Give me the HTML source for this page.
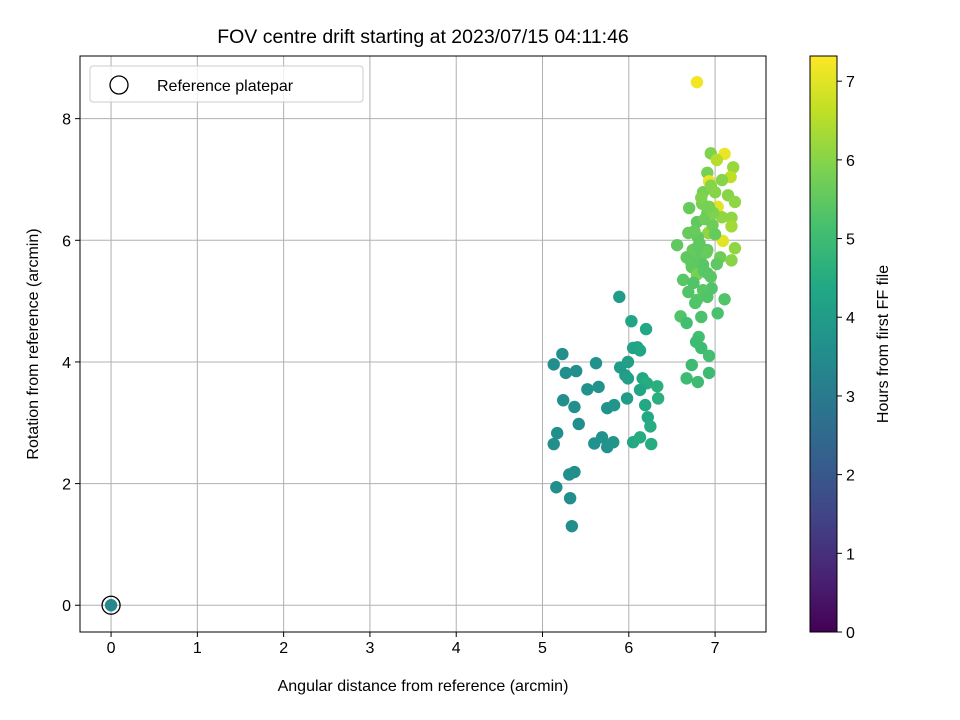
<!DOCTYPE html>
<html><head><meta charset="utf-8"><style>body{margin:0;background:#fff}svg{display:block;font-family:"Liberation Sans","DejaVu Sans",sans-serif}</style></head>
<body>
<svg id="c" width="960" height="720"></svg>
<script>
const xs=[5.89,6.03,6.20,6.10,6.05,6.13,5.23,5.13,5.62,5.27,5.39,5.90,5.99,5.96,5.99,6.16,6.21,6.33,6.34,6.19,6.13,5.52,5.65,5.24,5.37,5.75,5.83,5.98,6.22,6.25,5.42,5.17,5.13,5.60,5.69,5.75,5.82,6.05,6.13,6.26,5.31,5.37,5.16,5.32,5.34,
6.79,6.95,7.11,7.02,7.21,6.91,7.18,6.93,7.08,6.86,7.00,7.15,7.23,6.70,7.03,6.91,7.08,7.19,6.79,7.19,6.69,6.92,6.80,7.09,6.56,6.74,6.91,7.23,6.67,7.06,7.19,6.83,6.73,7.02,6.79,6.91,6.63,6.96,6.69,6.86,6.79,6.91,7.11,6.77,7.03,6.60,6.67,6.84,6.81,6.78,6.84,6.93,6.73,6.67,6.80,6.93,
6.85,6.95,6.88,6.76,6.98,6.82,6.90,6.72,6.87,6.97,6.84,6.93,7.00,6.75,6.86,6.95,6.80,0];
const ys=[5.07,4.67,4.54,4.24,4.23,4.19,4.13,3.96,3.98,3.82,3.85,3.91,4.00,3.78,3.73,3.73,3.65,3.60,3.40,3.29,3.54,3.55,3.59,3.37,3.26,3.24,3.29,3.40,3.09,2.94,2.98,2.83,2.65,2.66,2.76,2.60,2.68,2.68,2.76,2.65,2.15,2.19,1.94,1.76,1.30,
8.60,7.43,7.42,7.32,7.20,7.11,7.04,6.97,6.99,6.79,6.79,6.74,6.63,6.53,6.55,6.45,6.38,6.37,6.30,6.23,6.12,6.12,6.05,5.99,5.92,5.84,5.84,5.87,5.72,5.72,5.67,5.72,5.56,5.61,5.44,5.46,5.35,5.21,5.15,5.18,5.02,5.07,5.03,4.97,4.80,4.75,4.64,4.74,4.41,4.33,4.23,4.10,3.95,3.73,3.67,3.82,
6.60,6.90,6.35,6.15,6.45,5.95,5.80,5.65,5.50,6.25,6.70,6.55,6.10,5.30,5.60,5.40,5.90,0];
const hs=[4.0,4.3,4.4,4.2,4.2,4.3,3.6,3.6,3.7,3.6,3.6,4.0,4.1,4.0,4.1,4.4,4.5,4.6,4.6,4.4,4.3,3.7,3.7,3.6,3.6,3.7,3.8,4.0,4.4,4.5,3.6,3.6,3.6,3.7,3.7,3.7,3.8,4.4,4.5,4.5,3.6,3.6,3.6,3.6,3.6,
7.2,5.9,7.1,6.5,6.2,5.8,6.6,7.1,6.0,5.8,6.0,6.0,6.1,5.6,7.0,5.7,6.1,6.1,5.5,6.3,5.6,6.1,5.5,7.0,5.5,5.6,5.5,6.1,5.5,5.7,6.0,5.5,5.5,5.5,5.8,5.4,5.4,5.3,5.3,5.4,5.4,5.3,5.3,5.3,5.2,5.3,5.1,5.2,5.1,5.0,5.0,5.1,5.0,5.0,5.0,5.0,
5.8,6.0,5.7,5.6,5.9,5.5,5.6,5.5,5.4,5.7,5.9,5.8,5.6,5.3,5.4,5.4,5.5,3.4];
const xTicks=[0,1,2,3,4,5,6,7];
const yTicks=[0,2,4,6,8];
const cTicks=[0,1,2,3,4,5,6,7];
const L=80,R=766,T=56,B=632,X0=-0.36,X1=7.59,Y0=-0.44,Y1=9.03,HMAX=7.32;
const sx=v=>L+(v-X0)/(X1-X0)*(R-L), sy=v=>B-(v-Y0)/(Y1-Y0)*(B-T);
const stops=["#440154","#482475","#414487","#355f8d","#2a788e","#21918c","#22a884","#44bf70","#7ad151","#bddf26","#fde725"];
function hx(c){return [1,3,5].map(i=>parseInt(c.substr(i,2),16))}
function vir(t){t=Math.max(0,Math.min(1,t))*10;const i=Math.min(9,Math.floor(t)),f=t-i;const a=hx(stops[i]),b=hx(stops[i+1]);return "rgb("+a.map((v,k)=>Math.round(v+(b[k]-v)*f)).join(",")+")"}
const svg=document.getElementById('c');const NS="http://www.w3.org/2000/svg";
function el(t,a,p){const e=document.createElementNS(NS,t);for(const k in a)e.setAttribute(k,a[k]);(p||svg).appendChild(e);return e}
function tx(s,a){const e=el('text',a);e.textContent=s;return e}
xTicks.forEach(v=>{const g=el('line',{x1:sx(v),x2:sx(v),y1:T,y2:B,stroke:'#b0b0b0','stroke-width':1});
el('line',{x1:sx(v),x2:sx(v),y1:B,y2:B+5,stroke:'#000'});const t=tx(v,{x:sx(v),y:B+21,'font-size':16,'text-anchor':'middle'});});
yTicks.forEach(v=>{const g=el('line',{x1:L,x2:R,y1:sy(v),y2:sy(v),stroke:'#b0b0b0','stroke-width':1});
el('line',{x1:L-5,x2:L,y1:sy(v),y2:sy(v),stroke:'#000'});const t=tx(v,{x:L-9,y:sy(v)+6,'font-size':16,'text-anchor':'end'});});
xs.forEach((x,i)=>{const c=el('circle',{cx:sx(x),cy:sy(ys[i]),r:6.2,fill:vir(hs[i]/HMAX)});});
const rp=el('circle',{cx:sx(0),cy:sy(0),r:9,fill:'none',stroke:'#000','stroke-width':1.3});
el('rect',{x:L,y:T,width:R-L,height:B-T,fill:'none',stroke:'#000','stroke-width':1});
const lg=el('rect',{x:90,y:66,width:273,height:36,rx:3,fill:'#fff',stroke:'#ccc','fill-opacity':0.8});
el('circle',{cx:119,cy:85,r:9,fill:'none',stroke:'#000','stroke-width':1.3});
tx('Reference platepar',{x:157,y:91,'font-size':16});
tx('FOV centre drift starting at 2023/07/15 04:11:46',{x:423,y:43,'font-size':19.5,'text-anchor':'middle'});
tx('Angular distance from reference (arcmin)',{x:423,y:691,'font-size':16,'text-anchor':'middle'});
tx('Rotation from reference (arcmin)',{x:0,y:0,'font-size':16,'text-anchor':'middle',transform:'translate(38,344) rotate(-90)'});
const CL=810,CR=837;
const defs=el('defs',{});const gr=el('linearGradient',{id:'vg',x1:0,y1:1,x2:0,y2:0},defs);
stops.forEach((s,i)=>el('stop',{offset:i/10,'stop-color':s},gr));
const cb=el('rect',{x:CL,y:T,width:CR-CL,height:B-T,fill:'url(#vg)',stroke:'#000','stroke-width':1});
cTicks.forEach(v=>{const y=B-v/HMAX*(B-T);el('line',{x1:CR,x2:CR+5,y1:y,y2:y,stroke:'#000'});tx(v,{x:CR+9,y:y+6,'font-size':16});});
tx('Hours from first FF file',{x:0,y:0,'font-size':16,'text-anchor':'middle',transform:'translate(888,344) rotate(-90)'});
</script>
</body></html>
